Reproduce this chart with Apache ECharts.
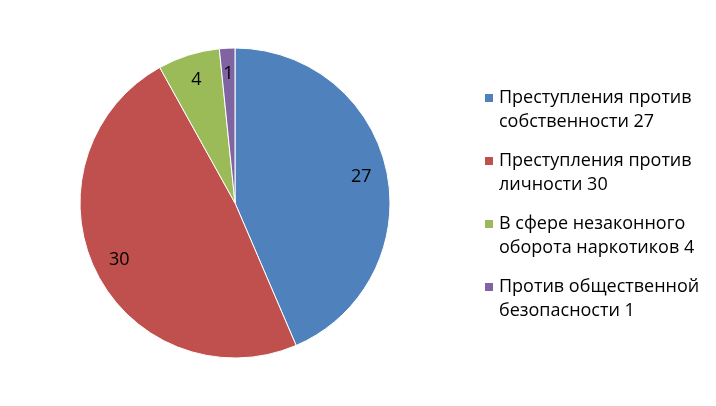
<!DOCTYPE html>
<html>
<head>
<meta charset="utf-8">
<script src="https://cdn.jsdelivr.net/npm/echarts@6/dist/echarts.min.js"></script>
<style>html,body{margin:0;padding:0;background:#fff}#c{width:716px;height:406px}</style>
</head>
<body>
<div id="c"></div>
<script>
const categories = ['Преступления против собственности 27', 'Преступления против личности 30', 'В сфере незаконного оборота наркотиков 4', 'Против общественной безопасности 1'];
const legendLabels = ['Преступления против\nсобственности 27', 'Преступления против\nличности 30', 'В сфере незаконного\nоборота наркотиков 4', 'Против общественной\nбезопасности 1'];
const values = [27, 30, 4, 1];
const colors = ['#4F81BD', '#C0504D', '#9BBB59', '#8064A2'];

const FONT = 'Open Sans';
const data = categories.map((n, i) => ({ name: n, value: values[i], itemStyle: { color: colors[i] } }));
const chart = echarts.init(document.getElementById('c'), null, { renderer: 'canvas' });
chart.setOption({
  animation: false,
  backgroundColor: '#fff',
  legend: {
    orient: 'vertical',
    left: 478,
    top: 57,
    itemWidth: 10,
    itemHeight: 10,
    itemGap: -9,
    icon: 'rect',
    data: categories,
    formatter: n => '\n' + legendLabels[categories.indexOf(n)],
    textStyle: { fontFamily: FONT, fontSize: 18, color: '#000', lineHeight: 24 }
  },
  series: [
    {
      type: 'pie',
      center: [235, 203],
      radius: [0, 155],
      startAngle: 90,
      clockwise: true,
      silent: true,
      data: data,
      itemStyle: { borderColor: '#fff', borderWidth: 1 },
      label: { show: false },
      labelLine: { show: false }
    },
    {
      type: 'pie',
      center: [235, 203],
      radius: [0, 252],
      startAngle: 90,
      clockwise: true,
      silent: true,
      data: categories.map((n, i) => ({ name: n, value: values[i], itemStyle: { color: 'rgba(0,0,0,0)' } })),
      itemStyle: { borderWidth: 0 },
      label: { show: true, position: 'inside', formatter: '{c}', fontFamily: FONT, fontSize: 18, color: '#000' },
      labelLine: { show: false }
    }
  ]
});
</script>
</body>
</html>
